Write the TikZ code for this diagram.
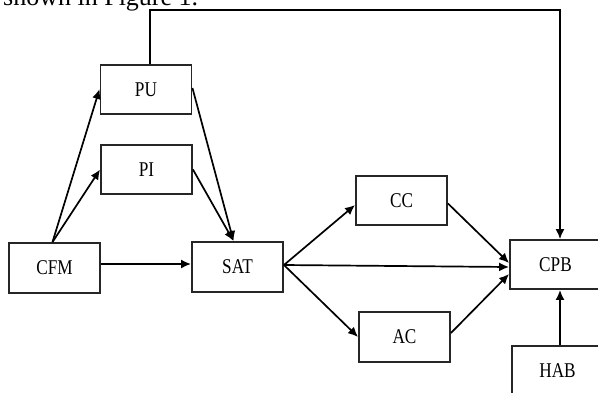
\documentclass[tikz,border=0pt]{standalone}
\usepackage{fontspec}
\setmainfont{Liberation Serif}
\newfontfamily\labfont{Liberation Serif}[FakeStretch=0.82]
\usetikzlibrary{arrows.meta,calc}
\begin{document}
\begin{tikzpicture}[x=1pt,y=-1pt,
  box/.style={draw=black!85,line width=1.9pt,minimum width=91pt,minimum height=49pt,inner sep=0pt,
    font=\labfont\fontsize{21}{21}\selectfont},
  arr/.style={line width=1.7pt,-{Latex[length=10pt,width=9pt]}},
  ln/.style={line width=1.5pt}]
\useasboundingbox (0,0) rectangle (598,392);
\begin{scope}
\clip (0,0) rectangle (598,392);
\node[anchor=base west,inner sep=0pt,font=\fontsize{26}{26}\selectfont] (hdr) at (3,5.5) {shown in Figure 1.};
\node[box] (PU) at (146,89.5) {PU};
\node[box] (PI) at (146.5,169.5) {PI};
\node[box,minimum height=50pt] (CFM) at (54.5,268) {CFM};
\node[box,minimum height=50pt] (SAT) at (237.5,267) {SAT};
\node[box] (CC) at (401.5,200.5) {CC};
\node[box,minimum height=50pt] (AC) at (404.5,337) {AC};
\node[box] (CPB) at (555.5,264.5) {CPB};
\node[box,minimum height=50pt] (HAB) at (557.5,371) {HAB};
\draw[arr] ([xshift=-2pt]CFM.north) -- ([yshift=0.5pt]PU.west);
\draw[arr] ([xshift=-2pt]CFM.north) -- (PI.west);
\draw[arr] ([yshift=1.5pt]PU.east) -- ([xshift=-4pt]SAT.north);
\draw[arr] (PI.east) -- ([xshift=-4pt]SAT.north);
\draw[arr] ([yshift=4pt]CFM.east) -- ([yshift=3pt]SAT.west);
\draw[arr] ([yshift=2pt]SAT.east) -- ([yshift=-4.5pt]CC.west);
\draw[arr] ([yshift=2pt]SAT.east) -- ([yshift=-2.5pt]CPB.west);
\draw[arr] ([yshift=2pt]SAT.east) -- (AC.west);
\draw[arr] ([yshift=-3pt]CC.east) -- ([yshift=1.5pt]CPB.west);
\draw[arr] ([yshift=4pt]AC.east) -- ([yshift=-9.5pt]CPB.west);
\draw[arr] ([xshift=2.5pt]HAB.north) -- ([xshift=4.5pt]CPB.south);
\draw[ln,-{Latex[length=10pt,width=9pt]}] ([xshift=4pt]PU.north) -- ([xshift=4pt]PU.north |- 0,10) -| ([xshift=4.5pt]CPB.north);
\end{scope}
\end{tikzpicture}
\end{document}
